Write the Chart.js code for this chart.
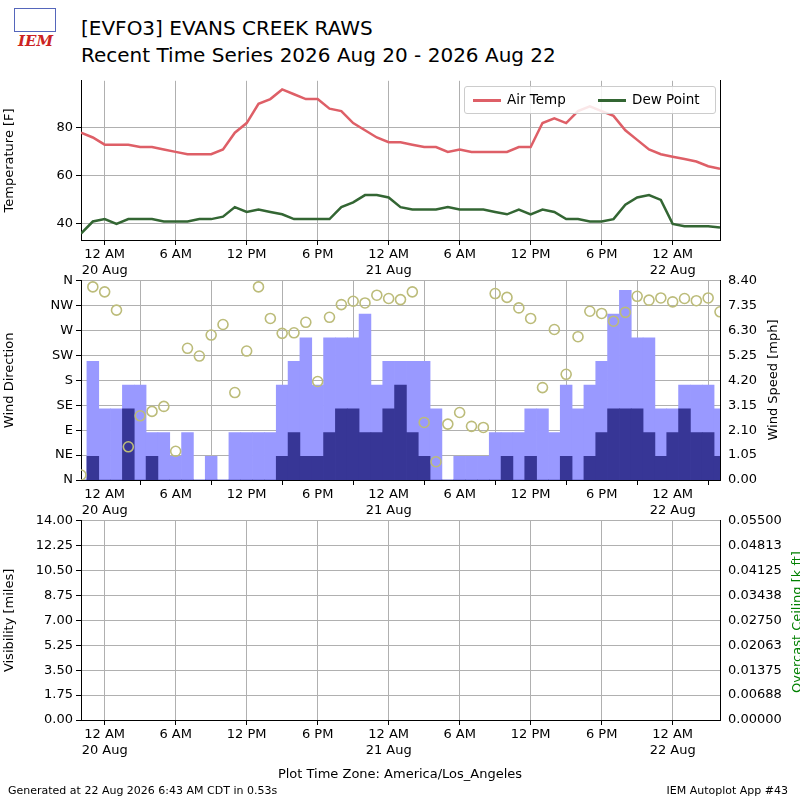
<!DOCTYPE html>
<html>
<head>
<meta charset="utf-8">
<script src="https://cdn.jsdelivr.net/npm/chart.js@4"></script>
<style>
  body { margin: 0; width: 800px; height: 800px; background: #fff; font-family: "DejaVu Sans", sans-serif; position: relative; overflow: hidden; }
  canvas { position: absolute; left: 0; }
  .txt { position: absolute; white-space: nowrap; color: #000; }
  .rot { position: absolute; white-space: nowrap; font-size: 13px; transform: translate(-50%, -50%) rotate(-90deg); }
  #legend { position: absolute; left: 464px; top: 86px; width: 250px; height: 26px; border: 1px solid #ccc; border-radius: 3px; background: rgba(255,255,255,0.85); font-size: 13.5px; }
  #legend span.ln { display: inline-block; width: 28px; height: 3px; vertical-align: middle; margin: 0 6px 0 8px; }
</style>
</head>
<body>
<div class="txt" style="left:8px;top:6px;width:52px;height:42px;">
  <div style="position:absolute;left:6px;top:2px;width:40px;height:22px;border:1px solid #5566bb;"></div>
  <div style="position:absolute;left:10px;top:26px;color:#cc2222;font:italic bold 15px 'DejaVu Serif';">IEM</div>
</div>
<div class="txt" style="left:81px;top:16px;font-size:20px;">[EVFO3] EVANS CREEK RAWS</div>
<div class="txt" style="left:81px;top:43px;font-size:20px;">Recent Time Series 2026 Aug 20 - 2026 Aug 22</div>
<canvas id="tempChart" width="800" height="210" style="top:70px"></canvas>
<canvas id="windChart" width="800" height="250" style="top:270px"></canvas>
<canvas id="visChart" width="800" height="250" style="top:510px"></canvas>
<div id="legend">
  <span style="position:absolute;left:0;top:4px;"><span class="ln" style="background:#de5f67"></span>Air Temp</span>
  <span style="position:absolute;left:125px;top:4px;"><span class="ln" style="background:#336633"></span>Dew Point</span>
</div>
<div class="rot" style="left:772px;top:380px;">Wind Speed [mph]</div>
<div class="rot" style="left:796px;top:622px;color:#008000;">Overcast Ceiling [k ft]</div>
<div class="txt" style="left:0;width:800px;text-align:center;top:766px;font-size:13px;">Plot Time Zone: America/Los_Angeles</div>
<div class="txt" style="left:8px;top:784px;font-size:11px;">Generated at 22 Aug 2026 6:43 AM CDT in 0.53s</div>
<div class="txt" style="right:12px;top:784px;font-size:11px;">IEM Autoplot App #43</div>
<script>
// hours since 2026-08-19 22:00 (local), hourly obs 0..54
const hours = Array.from({ length: 55 }, (_, i) => i);
const airTemp = [78, 76, 73, 73, 73, 72, 72, 71, 70, 69, 69, 69, 71, 78, 82, 90, 92, 96, 94, 92, 92, 88, 87, 82, 79, 76, 74, 74, 73, 72, 72, 70, 71, 70, 70, 70, 70, 72, 72, 82, 84, 82, 87, 89, 87, 85, 79, 75, 71, 69, 68, 67, 66, 64, 63];
const dewPoint = [36, 41, 42, 40, 42, 42, 42, 41, 41, 41, 42, 42, 43, 47, 45, 46, 45, 44, 42, 42, 42, 42, 47, 49, 52, 52, 51, 47, 46, 46, 46, 47, 46, 46, 46, 45, 44, 46, 44, 46, 45, 42, 42, 41, 41, 42, 48, 51, 52, 50, 40, 39, 39, 39, 38.5];
const windGust = [0, 5, 3, 3, 4, 4, 2, 2, 1, 2, 0, 1, 0, 2, 2, 2, 2, 4, 5, 6, 4, 6, 6, 6, 7, 4, 5, 5, 5, 5, 3, 0, 1, 1, 1, 2, 2, 2, 3, 3, 2, 4, 3, 4, 5, 7, 8, 6, 6, 3, 3, 4, 4, 4, 3];
const windSpeed = [0, 1, 0, 0, 3, 0, 1, 0, 0, 0, 0, 0, 0, 0, 0, 0, 0, 1, 2, 1, 1, 2, 3, 3, 2, 2, 3, 4, 2, 1, 0, 0, 0, 0, 0, 0, 1, 0, 1, 0, 0, 1, 0, 1, 2, 3, 3, 3, 2, 1, 2, 3, 2, 2, 1];
const windDir = [9, 349, 340, 307, 60, 116, 124, 133, 52, 238, 224, 262, 281, 158, 233, 349, 292, 265, 266, 285, 178, 294, 317, 323, 320, 334, 328, 326, 340, 104, 33, 101, 122, 97, 95, 337, 330, 311, 292, 167, 272, 191, 259, 305, 301, 287, 303, 332, 325, 329, 322, 328, 324, 329, 304];
const timeTicks = [2, 8, 14, 20, 26, 32, 38, 44, 50];
const timeLabels = [["12 AM", "20 Aug"], "6 AM", "12 PM", "6 PM", ["12 AM", "21 Aug"], "6 AM", "12 PM", "6 PM", ["12 AM", "22 Aug"]];
const dirLabels = ["N", "NE", "E", "SE", "S", "SW", "W", "NW", "N"];

const FONT = { family: "DejaVu Sans", size: 13 };
const GRID = "#b0b0b0";

function xAxis() {
  return {
    type: "linear", min: 0, max: 54, z: 1,
    afterBuildTicks: (s) => { s.ticks = timeTicks.map((v) => ({ value: v })); },
    afterFit: (s) => { s.height = 40; },
    ticks: { color: "#000", font: FONT, maxRotation: 0, autoSkip: false, padding: 2,
      callback: (v) => timeLabels[timeTicks.indexOf(v)] },
    grid: { color: GRID, tickLength: 5, tickColor: "#000" },
    border: { color: "#000" },
  };
}
function yAxis(pos, min, max, ticks, fmt, title, grid) {
  return {
    type: "linear", position: pos, min: min, max: max, z: 1,
    afterBuildTicks: (s) => { s.ticks = ticks.map((v) => ({ value: v })); },
    afterFit: (s) => { s.width = pos === "left" ? 81 : 80; },
    ticks: { color: "#000", font: FONT, callback: fmt, padding: 3 },
    grid: { display: grid, color: GRID, tickLength: 5, tickColor: "#000", drawOnChartArea: grid },
    border: { color: "#000" },
    title: { display: title !== "", text: title, color: "#000", font: FONT, padding: 2 },
  };
}
const base = {
  responsive: false, animation: false,
  layout: { padding: { top: 10, left: 0, right: 0, bottom: 0 } },
  plugins: { legend: { display: false }, tooltip: { enabled: false } },
};
const pts = (arr) => arr.map((v, i) => ({ x: hours[i], y: v }));

new Chart(document.getElementById("tempChart"), {
  type: "line",
  data: { datasets: [
    { data: pts(airTemp), borderColor: "#de5f67", borderWidth: 2.5, pointRadius: 0, yAxisID: "y" },
    { data: pts(dewPoint), borderColor: "#336633", borderWidth: 2.5, pointRadius: 0, yAxisID: "y" },
  ] },
  options: { ...base, scales: {
    x: { ...xAxis(), z: 0 },
    y: { ...yAxis("left", 33.3, 99.6, [40, 60, 80], (v) => v, "Temperature [F]", true), z: 0 },
    y2: { ...yAxis("right", 0, 1, [], () => "", "", false), ticks: { display: false } },
  } },
});

const dirTicks = dirLabels.map((_, i) => i * 45);
const spdTicks = Array.from({ length: 9 }, (_, i) => +(i * 1.05).toFixed(2));
new Chart(document.getElementById("windChart"), {
  data: { datasets: [
    { type: "scatter", data: pts(windDir), yAxisID: "yDir", pointRadius: 5, pointBorderWidth: 1.6,
      pointBorderColor: "#bcbc7a", pointBackgroundColor: "rgba(0,0,0,0)", order: 0 },
    { type: "bar", data: pts(windSpeed), yAxisID: "ySpd", backgroundColor: "#373696", grouped: false,
      barPercentage: 1, categoryPercentage: 1, order: 1 },
    { type: "bar", data: pts(windGust), yAxisID: "ySpd", backgroundColor: "#9999ff", grouped: false,
      barPercentage: 1, categoryPercentage: 1, order: 2 },
  ] },
  options: { ...base, scales: {
    x: { ...xAxis(), offset: false },
    yDir: yAxis("left", 0, 360, dirTicks, (v) => dirLabels[dirTicks.indexOf(v)], "Wind Direction", true),
    ySpd: yAxis("right", 0, 8.4, spdTicks, (v) => v.toFixed(2), "", false),
  } },
});

const visTicks = Array.from({ length: 9 }, (_, i) => i * 1.75);
const ceilTicks = Array.from({ length: 9 }, (_, i) => i * 0.006875);
new Chart(document.getElementById("visChart"), {
  type: "line",
  data: { datasets: [
    { data: [], yAxisID: "yVis" },
    { data: [], yAxisID: "yCeil" },
  ] },
  options: { ...base, scales: {
    x: xAxis(),
    yVis: yAxis("left", 0, 14, visTicks, (v) => v.toFixed(2), "Visibility [miles]", true),
    yCeil: yAxis("right", 0, 0.055, ceilTicks, (v) => v.toFixed(5), "", false),
  } },
});
</script>
</body>
</html>
